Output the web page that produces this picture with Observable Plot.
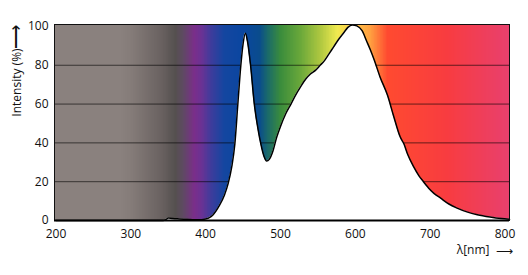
<!DOCTYPE html>
<html>
<head>
<meta charset="utf-8">
<script src="https://cdn.jsdelivr.net/npm/d3@7"></script>
<script src="https://cdn.jsdelivr.net/npm/@observablehq/plot@0.6"></script>
<style>
  html, body { margin: 0; padding: 0; background: #fff; }
  #chart svg { display: block; }
</style>
</head>
<body>
<div id="chart"></div>
<script>
// Emission spectrum (wavelength in nm, relative intensity in %)
const wavelength = [200, 340, 346, 350, 356, 365, 375, 385, 395, 400, 405, 410, 418, 425, 430, 435, 439, 443, 447, 450, 453, 456, 460, 465, 470, 474, 478, 481.5, 485, 490, 495, 500, 507, 514, 520, 527, 534, 540, 547, 553, 558, 565, 571, 578, 585, 590, 596, 602, 609, 615, 620, 625, 633, 643, 651, 660, 665, 670, 678, 685, 691, 695, 698, 705, 714, 725, 736, 750, 763, 780, 795, 806];
const intensity  = [0, 0, 0.3, 1.3, 1.0, 0.8, 0.6, 0.4, 0.4, 0.8, 1.5, 3, 7.5, 13, 19, 28, 39.5, 60, 80, 91, 96.5, 92, 80, 60, 47, 39, 33, 30.6, 31.5, 36, 43, 48.5, 55, 60, 64.5, 69, 73, 75.5, 77.5, 80, 82, 86, 89.5, 93.5, 97, 99.5, 100.8, 100.3, 97.8, 92.5, 88, 83, 74, 64.5, 54, 43, 39.4, 34, 27.6, 23, 20, 18, 16.6, 14, 11.5, 8.5, 6.4, 4.3, 3, 1.8, 1, 0.6];

// Spectrum background colour stops
const spectrumNm     = [198, 285, 300, 340, 360, 370, 385, 395, 408, 425, 450, 472, 483, 500, 527, 554, 576, 592, 620, 643, 723, 806];
const spectrumColors = ["#8a817e", "#8a817e", "#857c79", "#6a6261", "#55504f", "#5e4a62", "#7a2e8a", "#6a3294", "#3c3c9c", "#1446a0", "#0a46a0", "#0a4c8c", "#1a6a6a", "#3a8c3c", "#6aa83a", "#b0c840", "#f0ea50", "#ffd048", "#ffa040", "#ff4a30", "#f83c40", "#e8406e"];

const xTicks = [200, 300, 400, 500, 600, 700, 800];
const yTicks = [0, 20, 40, 60, 80, 100];
const gridValues = [20, 40, 60, 80];
const xDomain = [198, 806];
const yDomain = [0, 101];

const spectrum = wavelength.map((w, i) => ({w, v: intensity[i]}));
const bands = d3.range(xDomain[0], xDomain[1], 1);

const chart = Plot.plot({
  width: 528,
  height: 275,
  marginLeft: 54,
  marginRight: 19,
  marginTop: 24,
  marginBottom: 55,
  style: {fontFamily: "'Open Sans', sans-serif", fontSize: "12px", background: "#fff", color: "#111"},
  x: {domain: xDomain, ticks: xTicks, tickSize: 0, tickPadding: 9, label: null},
  y: {domain: yDomain, ticks: yTicks, tickSize: 0, tickPadding: 6, label: null},
  color: {type: "linear", domain: spectrumNm, range: spectrumColors, interpolate: "rgb"},
  marks: [
    Plot.rect(bands, {x1: d => d, x2: d => Math.min(d + 2, xDomain[1]), y1: yDomain[0], y2: yDomain[1], fill: d => d, shapeRendering: "crispEdges"}),
    Plot.ruleY(gridValues, {stroke: "#000", strokeOpacity: 0.6, strokeWidth: 1}),
    Plot.areaY(spectrum, {x: "w", y: "v", fill: "#fff", curve: "monotone-x"}),
    Plot.lineY(spectrum, {x: "w", y: "v", stroke: "#000", strokeWidth: 1.5, curve: "monotone-x"}),
    Plot.frame({stroke: "#111", strokeWidth: 1}),
    Plot.ruleY([0], {stroke: "#000", strokeWidth: 2}),
    Plot.text(["Intensity (%)"], {frameAnchor: "left", dx: -37, dy: -40, rotate: -90, textAnchor: "middle", lineAnchor: "middle", fontSize: 12, fill: "#111"}),
    Plot.text(["⟶"], {frameAnchor: "left", dx: -38, dy: -86, rotate: -90, textAnchor: "middle", lineAnchor: "middle", fontSize: 17, fill: "#111"}),
    Plot.text(["λ[nm]"], {frameAnchor: "bottom-right", dx: -20, dy: 30, textAnchor: "end", lineAnchor: "middle", fontSize: 12, fill: "#111"}),
    Plot.text(["⟶"], {frameAnchor: "bottom-right", dx: 3, dy: 31, textAnchor: "end", lineAnchor: "middle", fontSize: 12, fill: "#111"})
  ]
});
document.getElementById("chart").appendChild(chart);
</script>
</body>
</html>
